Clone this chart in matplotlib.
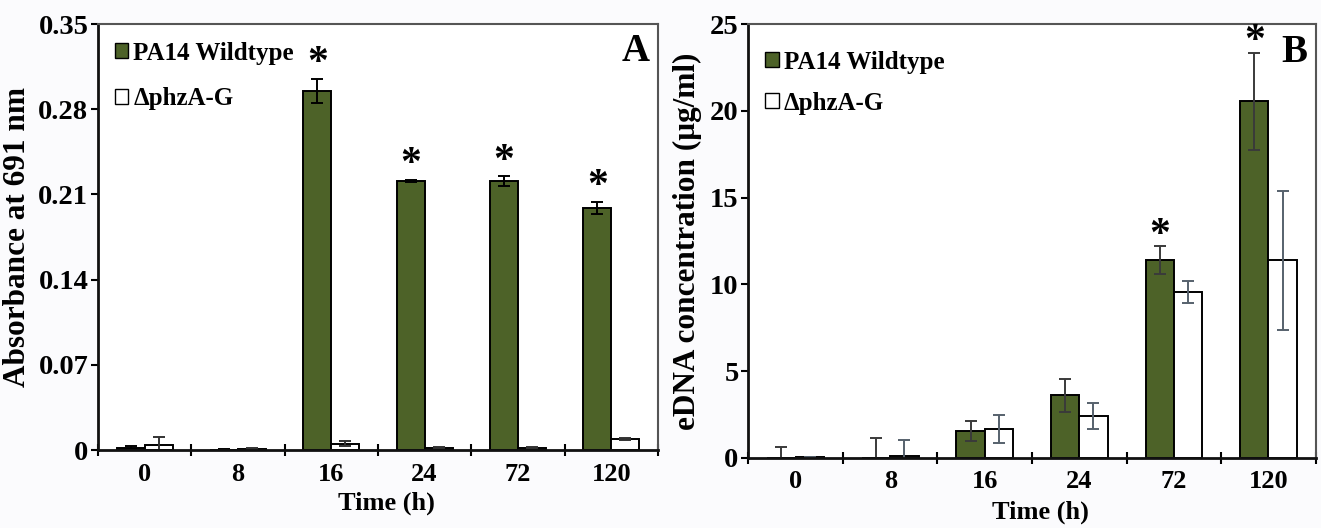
import numpy as np
import matplotlib.pyplot as plt

plt.rcParams['font.family'] = ['Liberation Serif', 'DejaVu Serif']
plt.rcParams['font.weight'] = 'bold'
plt.rcParams['axes.labelweight'] = 'bold'

times = ["0", "8", "16", "24", "72", "120"]

# panel A: absorbance at 691 nm
abs_wt = [0.002, 0.0003, 0.295, 0.221, 0.221, 0.199]
abs_wt_err = [0.001, 0.0003, 0.010, 0.001, 0.004, 0.005]
abs_mut = [0.004, 0.001, 0.005, 0.002, 0.002, 0.009]
abs_mut_err = [0.007, 0.0005, 0.002, 0.0005, 0.0005, 0.001]
abs_star = [False, False, True, True, True, True]

# panel B: eDNA concentration
dna_wt = [0.0, 0.0, 1.55, 3.6, 11.4, 20.55]
dna_wt_err = [0.65, 1.15, 0.6, 0.95, 0.8, 2.8]
dna_mut = [0.05, 0.1, 1.65, 2.4, 9.55, 11.4]
dna_mut_err = [0.0, 0.95, 0.8, 0.75, 0.65, 4.0]
dna_star = [False, False, False, False, True, True]

green = '#4d6228'
x = np.arange(len(times))
w = 0.3

fig = plt.figure(figsize=(13.21, 5.28), dpi=100)
fig.patch.set_facecolor('#fbfbfd')
axA = fig.add_axes([0.0742, 0.1477, 0.4238, 0.8068])
axB = fig.add_axes([0.5665, 0.1326, 0.4295, 0.8219])


def draw(ax, wt, wt_err, mut, mut_err, star, ymax, yticks, ylabel, ylsize,
         ylx, tag, wt_ecol, mut_ecol, star_pad, leg_y, leg_space):
    ax.bar(x - w / 2, wt, w, color=green, edgecolor='black', linewidth=1.4)
    ax.errorbar(x - w / 2, wt, yerr=wt_err, fmt='none', ecolor=wt_ecol,
                elinewidth=1.4, capsize=4, capthick=1.4)
    ax.bar(x + w / 2, mut, w, color='white', edgecolor='black', linewidth=1.4)
    ax.errorbar(x + w / 2, mut, yerr=mut_err, fmt='none', ecolor=mut_ecol,
                elinewidth=1.4, capsize=4, capthick=1.4)
    for i, s in enumerate(star):
        if s:
            ax.text(x[i] - w / 2, wt[i] + wt_err[i] + star_pad, '*',
                    ha='center', va='center', fontsize=30)
    ax.set_xlim(-0.5, 5.5)
    ax.set_ylim(0, ymax)
    ax.set_yticks(yticks)
    ax.set_yticklabels([f"{t:g}" for t in yticks])
    ax.set_xticks(x)
    ax.set_xticklabels(times)
    ax.set_xticks(np.arange(-0.5, 6.0, 1.0), minor=True)
    ax.tick_params(axis='x', which='major', length=0, labelsize=19, pad=9)
    ax.tick_params(axis='x', which='minor', direction='inout', length=9,
                   width=1.5)
    ax.tick_params(axis='y', direction='out', length=5, width=1.5,
                   labelsize=20.5, pad=2)
    for side in ['left', 'bottom']:
        ax.spines[side].set_linewidth(2)
        ax.spines[side].set_color('#111111')
    for side in ['top', 'right']:
        ax.spines[side].set_linewidth(1.5)
        ax.spines[side].set_color('#555555')
    ax.set_xlabel('Time (h)', fontsize=19)
    ax.xaxis.set_label_coords(0.515, -0.097)
    ax.set_ylabel(ylabel, fontsize=ylsize)
    ax.yaxis.set_label_coords(ylx, 0.5)
    ax.text(0.985, 0.935, tag, transform=ax.transAxes, ha='right',
            va='center', fontsize=28)

    h1 = plt.Rectangle((0, 0), 1, 1, facecolor=green, edgecolor='black')
    h2 = plt.Rectangle((0, 0), 1, 1, facecolor='white', edgecolor='black')
    ax.legend([h1, h2], ['PA14 Wildtype', '\u0394phzA-G'], loc='upper left',
              frameon=False, fontsize=18, handlelength=0.55,
              handleheight=0.55, handletextpad=0.2, labelspacing=leg_space,
              borderaxespad=0.0, borderpad=0.4,
              bbox_to_anchor=(0.012, leg_y))


draw(axA, abs_wt, abs_wt_err, abs_mut, abs_mut_err, abs_star, 0.35,
     [0, 0.07, 0.14, 0.21, 0.28, 0.35], 'Absorbance at 691 nm', 22.5, -0.118,
     'A', 'black', '#333333', 0.012, 0.982, 0.9)
draw(axB, dna_wt, dna_wt_err, dna_mut, dna_mut_err, dna_star, 25,
     [0, 5, 10, 15, 20, 25], 'eDNA concentration (\u03bcg/ml)', 22.5, -0.082,
     'B', '#3a3a3a', '#56616c', 0.6, 0.962, 0.72)

fig.savefig('out.png', dpi=100, facecolor=fig.get_facecolor())
